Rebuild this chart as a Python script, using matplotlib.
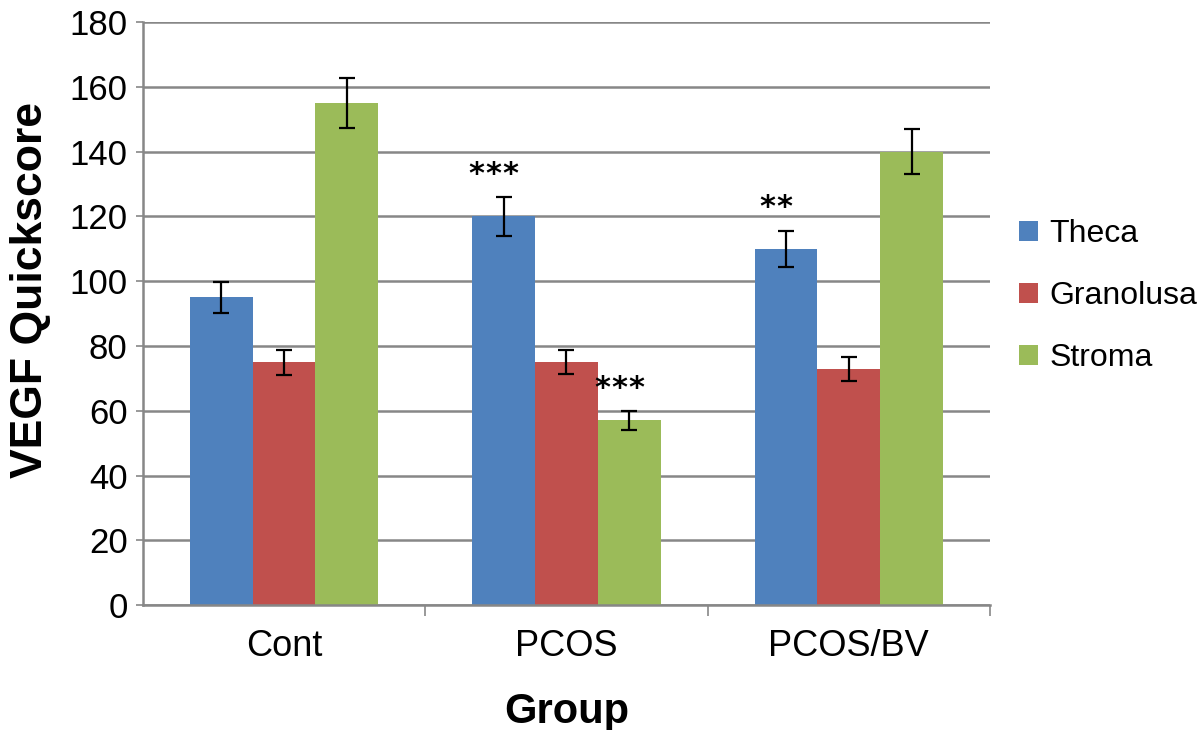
import numpy as np
import matplotlib.pyplot as plt

plt.rcParams['font.family'] = ['Liberation Sans', 'DejaVu Sans']

# Datos
groups = ['Cont', 'PCOS', 'PCOS/BV']
series = ['Theca', 'Granolusa', 'Stroma']
theca = [95, 120, 110]
theca_err = [4.8, 6.0, 5.6]
granolusa = [75, 75, 73]
granolusa_err = [3.9, 3.8, 3.7]
stroma = [155, 57, 140]
stroma_err = [7.8, 2.9, 7.0]
# numero de asteriscos por (serie, grupo)
stars = {('Theca', 1): 3, ('Stroma', 1): 3, ('Theca', 2): 2}

colors = ['#4F81BD', '#C0504D', '#9BBB59']
grid_color = '#878787'

fig = plt.figure(figsize=(12, 7.3), dpi=100)
ax = fig.add_axes([0.119, 0.171, 0.706, 0.799])

x = np.arange(len(groups))
width = 0.2222
values = [theca, granolusa, stroma]
errors = [theca_err, granolusa_err, stroma_err]

for i, (name, vals, errs, col) in enumerate(zip(series, values, errors, colors)):
    pos = x + (i - 1) * width
    ax.bar(pos, vals, width, color=col, label=name, zorder=2)
    ax.errorbar(pos, vals, yerr=errs, fmt='none', ecolor='black',
                elinewidth=1.6, capsize=5.5, capthick=1.6, zorder=3)
    for j in range(len(groups)):
        n = stars.get((name, j), 0)
        for k in range(n):
            ax.annotate('*', xy=(pos[j] - 0.035, vals[j] + errs[j] + 2.5),
                        xytext=((k - (n - 1) / 2) * 12.3, 0), textcoords='offset points',
                        ha='center', va='bottom', fontsize=22, fontweight='bold',
                        family='DejaVu Sans', color='black')

ax.set_xlim(-0.5, 2.5)
ax.set_ylim(0, 180)
ax.set_yticks(range(0, 181, 20))
ax.yaxis.grid(True, color=grid_color, linewidth=1.8, zorder=0)
ax.set_axisbelow(True)

# ticks del eje x en los limites de cada grupo
ax.set_xticks([0.5, 1.5, 2.5], minor=False)
ax.set_xticklabels([])
ax.set_xticks(x, minor=True)
ax.set_xticklabels(groups, minor=True)
ax.tick_params(axis='x', which='minor', length=0, labelsize=26, pad=17)
ax.tick_params(axis='x', which='major', length=8, width=1.2, color=grid_color)
ax.tick_params(axis='y', length=5, width=1.2, color=grid_color, labelsize=25, pad=6)

for side in ['top', 'right']:
    ax.spines[side].set_visible(False)
for side in ['left', 'bottom']:
    ax.spines[side].set_color(grid_color)
    ax.spines[side].set_linewidth(1.8)

ax.set_ylabel('VEGF Quickscore', fontsize=32, fontweight='bold')
ax.yaxis.set_label_coords(-0.108, 0.54)
ax.set_xlabel('Group', fontsize=30, fontweight='bold', labelpad=20)

leg = ax.legend(loc='center left', bbox_to_anchor=(1.034, 0.53), frameon=False,
                fontsize=23, handlelength=0.6, handleheight=0.6, handletextpad=0.35,
                labelspacing=1.0, borderpad=0, borderaxespad=0)

fig.savefig('out.png', dpi=100)
